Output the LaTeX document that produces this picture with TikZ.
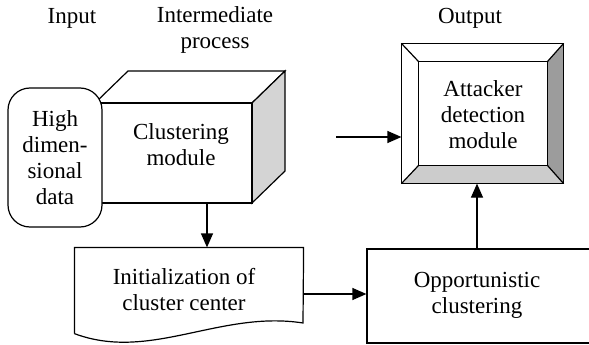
\documentclass[tikz,border=0pt]{standalone}
\usepackage{fontspec}
\setmainfont{Liberation Serif}
\usetikzlibrary{arrows.meta,calc}
\definecolor{cubegray}{HTML}{D4D4D4}
\definecolor{bevdark}{HTML}{9C9C9C}
\definecolor{bevlight}{HTML}{CCCCCC}
\begin{document}
\begin{tikzpicture}[x=1pt,y=-1pt, line width=1.2pt,
  font=\fontsize{23}{26}\selectfont,
  arr/.style={-{Triangle[length=14pt,width=12pt]}},
  lbl/.style={align=center, inner sep=0pt},
  box/.style={draw, inner sep=0pt, align=center}]
\useasboundingbox (0,0) rectangle (589,345);
\clip (0,0) rectangle (589,345);
% column labels
\node[lbl] (inlab) at (72,18) {Input};
\node[lbl] (intlab) at (215,30) {Intermediate\\process};
\node[lbl] (outlab) at (470,18) {Output};
% cube
\draw[fill=white] (95,103) -- (128,71) -- (285,71) -- (252,103) -- cycle;
\draw[fill=cubegray] (252,103) -- (285,71) -- (285,171) -- (252,203) -- cycle;
\node[box, fill=white, minimum width=157pt, minimum height=100pt] (clus) at (173.5,153) {};
\node[lbl] (clustxt) at (181,145) {Clustering\\module};
% input box
\node[box, rounded corners=22pt, fill=white, minimum width=94pt, minimum height=139pt] (hdd) at (55,157.5) {High\\dimen-\\sional\\data};
% document
\node[lbl, minimum width=228pt, minimum height=85pt] (init) at (189,290.5) {};
\draw (init.south west) -- (init.north west) -- (init.north east) -- (303,323)
   .. controls (220,310) and (150,362) .. (init.south west);
\node[lbl] (inittxt) at (184,290) {Initialization of\\cluster center};
% opportunistic
\node[box, minimum width=226pt, minimum height=94pt] (opp) at (480,296) {};
\node[lbl] (opptxt) at (477,295) {Opportunistic\\clustering};
% attacker box
\node[minimum width=161pt, minimum height=139pt, inner sep=0pt] (att) at (482.5,113.5) {};
\node[minimum width=128pt, minimum height=103pt, inner sep=0pt, align=center] (attin) at (483,113.5) {};
\fill[bevlight] (att.south west) -- (att.south east) -- (attin.south east) -- (attin.south west) -- cycle;
\fill[bevdark] (att.north east) -- (att.south east) -- (attin.south east) -- (attin.north east) -- cycle;
\draw (attin.north west) rectangle (attin.south east);
\draw (att.north west) -- (attin.north west);
\draw (att.north east) -- (attin.north east);
\draw (att.south west) -- (attin.south west);
\draw (att.south east) -- (attin.south east);
\draw[line width=1.6pt] (att.north west) rectangle (att.south east);
\node[lbl] (atttxt) at (483,115) {Attacker\\detection\\module};
% connectors
\coordinate (cubeb) at (207,203);
\draw[arr] (cubeb) -- (cubeb |- init.north);
\draw[arr] ([yshift=-3.5pt]init.east) -- ([yshift=-3.5pt]init.east -| opp.west);
\coordinate (oppup) at (477,249);
\draw[arr] (oppup) -- (oppup |- att.south);
\coordinate (src) at (336,137);
\draw[arr] (src) -- (src -| att.west);
\end{tikzpicture}
\end{document}
